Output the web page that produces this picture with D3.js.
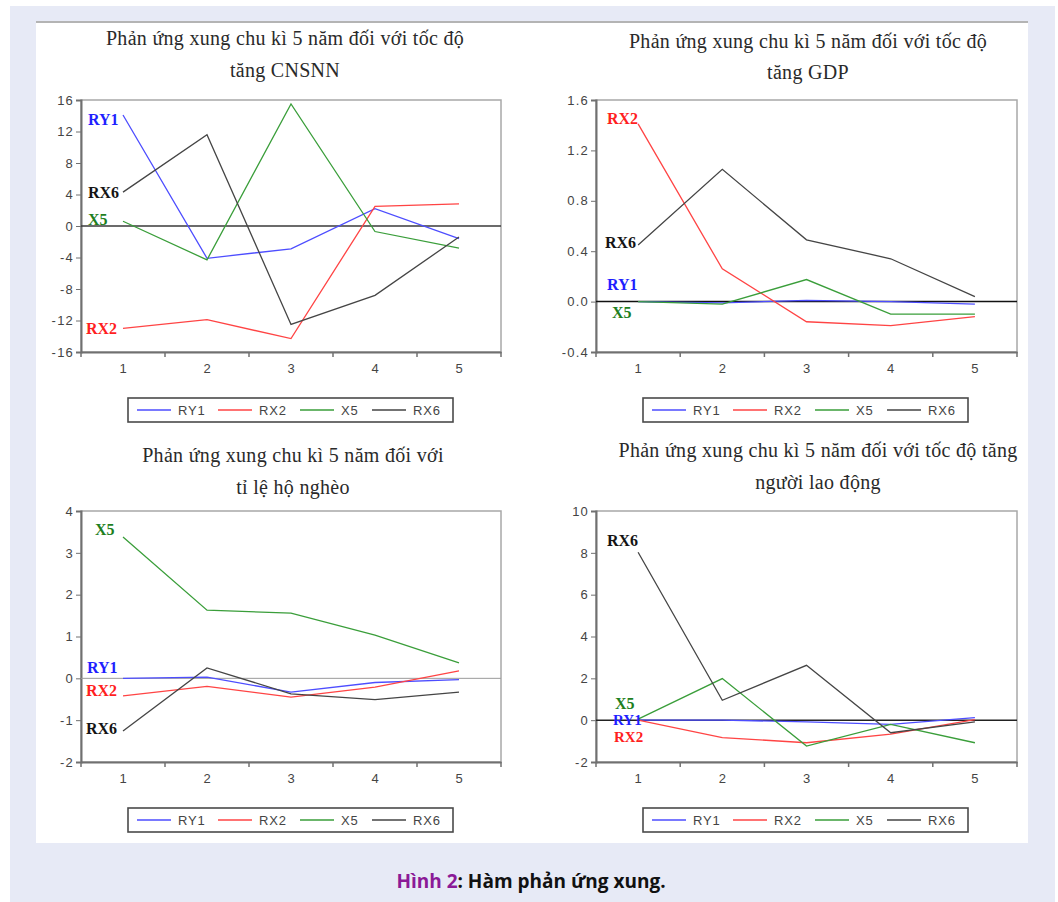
<!DOCTYPE html>
<html lang="vi">
<head>
<meta charset="utf-8">
<title>Hàm phản ứng xung</title>
<script src="https://d3js.org/d3.v7.min.js"></script>
<style>
  body { margin: 0; background: #fff; }
</style>
</head>
<body>
<div id="chart"></div>
<script>

// ---- data ----
const periods = [1, 2, 3, 4, 5];
const seriesNames = ["RY1", "RX2", "X5", "RX6"];

// values in series order RY1, RX2, X5, RX6
const cnsnnValues = [
  [14.1, -4.1, -2.9, 2.2, -1.6],
  [-13.0, -11.9, -14.3, 2.5, 2.8],
  [0.6, -4.3, 15.5, -0.7, -2.8],
  [4.3, 11.6, -12.5, -8.8, -1.4]
];
const gdpValues = [
  [0.0, -0.01, 0.01, 0.0, -0.02],
  [1.41, 0.26, -0.16, -0.19, -0.12],
  [0.0, -0.02, 0.175, -0.1, -0.1],
  [0.45, 1.05, 0.49, 0.34, 0.04]
];
const poorValues = [
  [0.0, 0.03, -0.33, -0.1, -0.03],
  [-0.42, -0.19, -0.45, -0.21, 0.18],
  [3.38, 1.63, 1.56, 1.03, 0.37],
  [-1.26, 0.25, -0.37, -0.51, -0.33]
];
const laborValues = [
  [0.0, 0.0, -0.08, -0.2, 0.12],
  [0.0, -0.83, -1.08, -0.67, 0.03],
  [0.05, 1.99, -1.24, -0.2, -1.08],
  [8.03, 0.95, 2.62, -0.6, -0.08]
];

const cnsnnTicks = [-16, -12, -8, -4, 0, 4, 8, 12, 16];
const gdpTicks = [-0.4, 0.0, 0.4, 0.8, 1.2, 1.6];
const poorTicks = [-2, -1, 0, 1, 2, 3, 4];
const laborTicks = [-2, 0, 2, 4, 6, 8, 10];

const titles = [
  ["Phản ứng xung chu kì 5 năm đối với tốc độ", "tăng CNSNN"],
  ["Phản ứng xung chu kì 5 năm đối với tốc độ", "tăng GDP"],
  ["Phản ứng xung chu kì 5 năm đối với", "tỉ lệ hộ nghèo"],
  ["Phản ứng xung chu kì 5 năm đối với tốc độ tăng", "người lao động"]
];

// ---- layout / style ----
const width = 1058, height = 902;
const lineColors = { RY1: "#4d4dff", RX2: "#ff4444", X5: "#3a9e3a", RX6: "#454545" };
const labelColors = { RY1: "#1f1fff", RX2: "#ff1f1f", X5: "#1e7f1e", RX6: "#141414" };

// plain hyphen for negatives, like the original
const fmtInt = v => d3.format("d")(v).replace("\u2212", "-");
const fmtOne = v => d3.format(".1f")(v).replace("\u2212", "-");

const panels = [
  { values: cnsnnValues, ticks: cnsnnTicks, fmt: fmtInt, title: titles[0],
    left: 81, right: 501, top: 100, bottom: 352, titleX: 285, titleY: [45, 77],
    legendX: 128, legendY: 398, zero: "#3a3a3a",
    labels: [["RY1", 13.5, 7, 16], ["RX6", 4.2, 7, 16], ["X5", 0.8, 7, 16], ["RX2", -13.0, 5, 16]] },
  { values: gdpValues, ticks: gdpTicks, fmt: fmtOne, title: titles[1],
    left: 596, right: 1017, top: 100, bottom: 352, titleX: 808, titleY: [48, 79],
    legendX: 643, legendY: 398, zero: "#111",
    labels: [["RX2", 1.457, 11, 16], ["RX6", 0.473, 9, 16], ["RY1", 0.132, 11, 16], ["X5", -0.09, 16, 16]] },
  { values: poorValues, ticks: poorTicks, fmt: fmtInt, title: titles[2],
    left: 81, right: 501, top: 511, bottom: 762, titleX: 293, titleY: [462, 494],
    legendX: 128, legendY: 808, zero: "#9a9a9a",
    labels: [["X5", 3.55, 14, 16], ["RY1", 0.27, 6, 16], ["RX2", -0.3, 5, 16], ["RX6", -1.21, 5, 16]] },
  { values: laborValues, ticks: laborTicks, fmt: fmtInt, title: titles[3],
    left: 596, right: 1017, top: 511, bottom: 762, titleX: 818, titleY: [457, 489],
    legendX: 643, legendY: 808, zero: "#222",
    labels: [["RX6", 8.61, 11, 16], ["X5", 0.78, 19, 16], ["RY1", 0.0, 17, 15], ["RX2", -0.8, 18, 15]] }
];
const legendOffsets = [9, 90, 172, 244];

const svg = d3.select("#chart").append("svg")
  .attr("width", width).attr("height", height)
  .style("display", "block");

// page background
svg.append("rect").attr("x", 10).attr("y", 6).attr("width", 1045).attr("height", 896)
  .attr("fill", "#e7eaf6");
svg.append("rect").attr("x", 36).attr("y", 22).attr("width", 992).attr("height", 821)
  .attr("fill", "#fff");
svg.append("line").attr("x1", 36).attr("x2", 1028).attr("y1", 22).attr("y2", 22)
  .attr("stroke", "#b4b4b4").attr("stroke-width", 2);

panels.forEach(p => {
  const g = svg.append("g");

  const x = d3.scaleBand().domain(periods).range([p.left, p.right]).padding(0);
  const y = d3.scaleLinear()
    .domain([d3.min(p.ticks), d3.max(p.ticks)])
    .range([p.bottom, p.top]);

  // title
  g.append("text")
    .attr("x", p.titleX)
    .attr("text-anchor", "middle")
    .attr("font-family", "Liberation Serif, serif")
    .attr("font-size", 20)
    .attr("letter-spacing", 0.3)
    .attr("fill", "#2a2a2a")
    .selectAll("tspan")
    .data(p.title)
    .join("tspan")
      .attr("x", p.titleX)
      .attr("y", (d, i) => p.titleY[i])
      .text(d => d);

  // frame
  g.append("rect")
    .attr("x", p.left).attr("y", p.top)
    .attr("width", p.right - p.left).attr("height", p.bottom - p.top)
    .attr("fill", "none").attr("stroke", "#a8a8a8").attr("stroke-width", 1.5);

  // y axis
  g.append("g")
    .attr("transform", `translate(${p.left},0)`)
    .call(d3.axisLeft(y).tickValues(p.ticks).tickFormat(p.fmt).tickSize(5).tickPadding(2))
    .call(a => a.select(".domain").attr("stroke", "#707070").attr("stroke-width", 2))
    .call(a => a.selectAll(".tick line").attr("stroke", "#707070"))
    .call(a => a.selectAll("text")
      .attr("font-family", "Liberation Sans, Arial, sans-serif")
      .attr("font-size", 13).attr("letter-spacing", 1.2).attr("fill", "#444"));

  // x axis labels at band centers
  g.append("g")
    .attr("transform", `translate(0,${p.bottom})`)
    .call(d3.axisBottom(x).tickSize(0).tickPadding(12))
    .call(a => a.select(".domain").attr("stroke", "#707070").attr("stroke-width", 2))
    .call(a => a.selectAll("text")
      .attr("font-family", "Liberation Sans, Arial, sans-serif")
      .attr("font-size", 13).attr("fill", "#444"));

  // x boundary ticks
  const bounds = periods.map(d => x(d)).concat([x(periods[periods.length - 1]) + x.bandwidth()]);
  g.append("g").selectAll("line")
    .data(bounds)
    .join("line")
      .attr("x1", d => d).attr("x2", d => d)
      .attr("y1", p.bottom).attr("y2", p.bottom + 5)
      .attr("stroke", "#707070").attr("stroke-width", 1.5);

  // zero line
  g.append("line")
    .attr("x1", p.left).attr("x2", p.right)
    .attr("y1", y(0)).attr("y2", y(0))
    .attr("stroke", p.zero).attr("stroke-width", p.zero === "#9a9a9a" ? 1 : 1.5);

  // series lines
  const line = d3.line()
    .x((d, i) => x(periods[i]) + x.bandwidth() / 2)
    .y(d => y(d));

  g.append("g")
    .selectAll("path")
    .data(seriesNames.map((name, i) => ({ name, vals: p.values[i] })))
    .join("path")
      .attr("d", d => line(d.vals))
      .attr("fill", "none")
      .attr("stroke", d => lineColors[d.name])
      .attr("stroke-width", 1.3);

  // series labels
  g.append("g")
    .selectAll("text")
    .data(p.labels)
    .join("text")
      .attr("x", d => p.left + d[2])
      .attr("y", d => y(d[1]))
      .attr("dominant-baseline", "central")
      .attr("font-family", "Liberation Serif, serif")
      .attr("font-weight", "bold")
      .attr("font-size", d => d[3])
      .attr("fill", d => labelColors[d[0]])
      .text(d => d[0]);

  // legend
  const lg = g.append("g").attr("transform", `translate(${p.legendX},${p.legendY})`);
  lg.append("rect")
    .attr("width", 325).attr("height", 24)
    .attr("fill", "#fff").attr("stroke", "#4a4a4a").attr("stroke-width", 1.6);
  const items = lg.selectAll("g.item")
    .data(seriesNames)
    .join("g")
      .attr("class", "item")
      .attr("transform", (d, i) => `translate(${legendOffsets[i]},12)`);
  items.append("line")
    .attr("x1", 0).attr("x2", 34)
    .attr("stroke", d => lineColors[d]).attr("stroke-width", 1.3);
  items.append("text")
    .attr("x", 41)
    .attr("dominant-baseline", "central")
    .attr("font-family", "Liberation Sans, Arial, sans-serif")
    .attr("font-size", 13)
    .attr("letter-spacing", 0.8)
    .attr("fill", "#444")
    .text(d => d);
});

// caption
const cap = svg.append("text")
  .attr("x", 531).attr("y", 888)
  .attr("text-anchor", "middle")
  .attr("font-family", "Open Sans, Noto Sans, sans-serif")
  .attr("font-weight", "bold")
  .attr("font-size", 19);
cap.append("tspan").attr("fill", "#8b1a97").text("Hình 2");
cap.append("tspan").attr("fill", "#111").text(": Hàm phản ứng xung.");

</script>
</body>
</html>
